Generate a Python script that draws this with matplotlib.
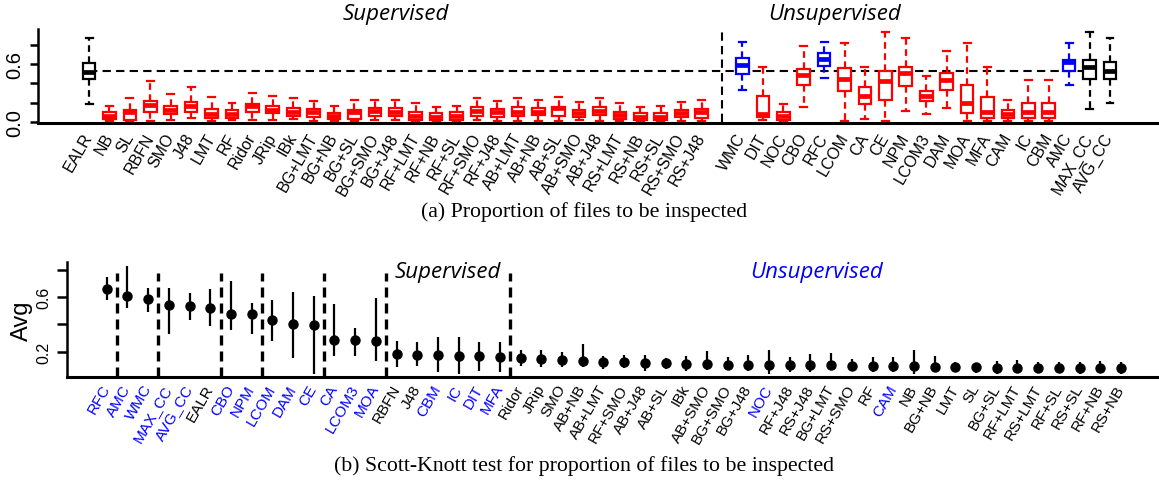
import matplotlib.pyplot as plt
import matplotlib.transforms as mtransforms
import numpy as np

# ---- (a) boxplot data: proportion of files to be inspected ----
baseline_name = ["EALR"]
sup_names = ["NB", "SL", "RBFN", "SMO", "J48", "LMT", "RF", "Ridor", "JRip", "IBk",
             "BG+LMT", "BG+NB", "BG+SL", "BG+SMO", "BG+J48",
             "RF+LMT", "RF+NB", "RF+SL", "RF+SMO", "RF+J48",
             "AB+LMT", "AB+NB", "AB+SL", "AB+SMO", "AB+J48",
             "RS+LMT", "RS+NB", "RS+SL", "RS+SMO", "RS+J48"]
unsup_names = ["WMC", "DIT", "NOC", "CBO", "RFC", "LCOM", "CA", "CE", "NPM", "LCOM3",
               "DAM", "MOA", "MFA", "CAM", "IC", "CBM", "AMC", "MAX_CC", "AVG_CC"]

# EALR, then supervised, then unsupervised
box_hi = [0.87,
          0.17, 0.25, 0.42, 0.29, 0.365, 0.255, 0.20, 0.30, 0.27, 0.25,
          0.22, 0.17, 0.23, 0.23, 0.23,
          0.20, 0.15, 0.17, 0.25, 0.22,
          0.25, 0.23, 0.255, 0.21, 0.25,
          0.20, 0.15, 0.17, 0.21, 0.23,
          0.83, 0.565, 0.186, 0.78, 0.83, 0.82, 0.57, 0.93, 0.865, 0.47,
          0.73, 0.82, 0.565, 0.23, 0.43, 0.43, 0.82, 0.93, 0.865]
box_q3 = [0.61,
          0.10, 0.12, 0.22, 0.17, 0.21, 0.13, 0.12, 0.19, 0.17, 0.14,
          0.13, 0.09, 0.12, 0.14, 0.14,
          0.10, 0.09, 0.10, 0.15, 0.13,
          0.15, 0.145, 0.16, 0.12, 0.15,
          0.10, 0.09, 0.09, 0.12, 0.13,
          0.66, 0.265, 0.10, 0.55, 0.71, 0.555, 0.36, 0.53, 0.57, 0.32,
          0.51, 0.38, 0.26, 0.12, 0.20, 0.20, 0.645, 0.64, 0.62]
box_med = [0.52,
           0.06, 0.10, 0.18, 0.12, 0.17, 0.08, 0.08, 0.17, 0.12, 0.10,
           0.10, 0.06, 0.10, 0.11, 0.10,
           0.06, 0.05, 0.06, 0.11, 0.10,
           0.10, 0.10, 0.145, 0.09, 0.11,
           0.07, 0.05, 0.05, 0.09, 0.10,
           0.59, 0.08, 0.06, 0.486, 0.65, 0.445, 0.27, 0.42, 0.51, 0.27,
           0.43, 0.20, 0.10, 0.08, 0.10, 0.10, 0.62, 0.565, 0.53]
box_q1 = [0.44,
          0.03, 0.025, 0.10, 0.08, 0.10, 0.04, 0.04, 0.10, 0.09, 0.06,
          0.05, 0.03, 0.03, 0.065, 0.06,
          0.02, 0.02, 0.02, 0.065, 0.05,
          0.06, 0.07, 0.06, 0.05, 0.07,
          0.03, 0.02, 0.02, 0.05, 0.04,
          0.50, 0.05, 0.025, 0.38, 0.58, 0.32, 0.19, 0.23, 0.37, 0.22,
          0.33, 0.09, 0.04, 0.04, 0.04, 0.04, 0.53, 0.44, 0.44]
box_lo = [0.19,
          0.01, 0.01, 0.015, 0.02, 0.04, 0.01, 0.025, 0.02, 0.02, 0.03,
          0.01, 0.01, 0.01, 0.02, 0.02,
          0.015, 0.015, 0.015, 0.02, 0.015,
          0.015, 0.015, 0.015, 0.02, 0.015,
          0.015, 0.015, 0.015, 0.015, 0.015,
          0.33, 0.02, 0.015, 0.16, 0.455, 0.015, 0.03, 0.015, 0.11, 0.08,
          0.14, 0.015, 0.01, 0.015, 0.015, 0.015, 0.38, 0.13, 0.20]
ealr_ref = 0.525

# ---- (b) Scott-Knott data ----
sk_names = ["RFC", "AMC", "WMC", "MAX_CC", "AVG_CC", "EALR", "CBO", "NPM", "LCOM", "DAM",
            "CE", "CA", "LCOM3", "MOA", "RBFN", "J48", "CBM", "IC", "DIT", "MFA",
            "Ridor", "JRip", "SMO", "AB+NB", "AB+LMT", "RF+SMO", "AB+J48", "AB+SL", "IBk", "AB+SMO",
            "BG+SMO", "BG+J48", "NOC", "RF+J48", "RS+J48", "BG+LMT", "RS+SMO", "RF", "CAM", "NB",
            "BG+NB", "LMT", "SL", "BG+SL", "RF+LMT", "RS+LMT", "RF+SL", "RS+SL", "RF+NB", "RS+NB"]
sk_avg = [0.659, 0.606, 0.586, 0.542, 0.537, 0.52, 0.476, 0.476, 0.432, 0.403,
          0.395, 0.288, 0.286, 0.28, 0.183, 0.178, 0.176, 0.171, 0.171, 0.163,
          0.151, 0.146, 0.141, 0.13, 0.122, 0.122, 0.117, 0.115, 0.11, 0.11,
          0.105, 0.103, 0.103, 0.103, 0.103, 0.103, 0.098, 0.098, 0.093, 0.093,
          0.086, 0.086, 0.086, 0.081, 0.081, 0.081, 0.081, 0.078, 0.081, 0.078]
sk_hi = [0.745, 0.826, 0.667, 0.667, 0.63, 0.66, 0.716, 0.557, 0.58, 0.64,
         0.606, 0.549, 0.371, 0.593, 0.28, 0.269, 0.305, 0.305, 0.273, 0.273,
         0.212, 0.212, 0.20, 0.256, 0.166, 0.178, 0.178, 0.154, 0.166, 0.207,
         0.163, 0.178, 0.212, 0.159, 0.183, 0.19, 0.146, 0.159, 0.159, 0.212,
         0.171, 0.122, 0.117, 0.134, 0.141, 0.127, 0.122, 0.122, 0.134, 0.122]
sk_lo = [0.579, 0.52, 0.489, 0.33, 0.434, 0.386, 0.361, 0.33, 0.28, 0.151,
         0.037, 0.171, 0.171, 0.134, 0.086, 0.093, 0.053, 0.037, 0.061, 0.053,
         0.098, 0.09, 0.09, 0.086, 0.073, 0.078, 0.061, 0.073, 0.061, 0.068,
         0.068, 0.061, 0.037, 0.053, 0.053, 0.068, 0.068, 0.053, 0.049, 0.037,
         0.049, 0.049, 0.044, 0.037, 0.044, 0.044, 0.044, 0.037, 0.044, 0.037]
sk_group_sizes = [1, 2, 3, 2, 3, 3, 6, 30]

RED = "#ff0000"
BLUE = "#0000ff"
blue_metrics = {"WMC", "RFC", "AMC"}
black_metrics = {"EALR", "MAX_CC", "AVG_CC"}

fig = plt.figure(figsize=(11.59, 4.85), dpi=100)

# ================= (a) =================
ax1 = fig.add_axes([38 / 1159, 1 - 124 / 485, 1 - 38 / 1159, 94 / 485])
names_a = baseline_name + sup_names + unsup_names
pos_a = np.concatenate([[1], np.arange(2, 2 + len(sup_names)),
                        np.arange(3 + len(sup_names), 3 + len(sup_names) + len(unsup_names))])
divider = 2 + len(sup_names)

ax1.plot([1, pos_a[-2]], [ealr_ref, ealr_ref], color="black", lw=1.5,
         linestyle=(0, (4, 2.5)), zorder=1)
ax1.plot([divider, divider], [0, 0.96], color="black", lw=1.5,
         linestyle=(0, (4, 2.5)), zorder=1)

for i, name in enumerate(names_a):
    if name in black_metrics:
        c = "black"
    elif name in blue_metrics:
        c = BLUE
    else:
        c = RED
    stats = [dict(med=box_med[i], q1=box_q1[i], q3=box_q3[i],
                  whislo=box_lo[i], whishi=box_hi[i], fliers=[])]
    ax1.bxp(stats, positions=[pos_a[i]], widths=0.62, capwidths=0.34,
            patch_artist=True, showfliers=False, manage_ticks=False,
            boxprops=dict(facecolor="white", edgecolor=c, linewidth=1.6),
            medianprops=dict(color=c, linewidth=3.4),
            whiskerprops=dict(color=c, linewidth=1.6, linestyle=(0, (3, 2))),
            capprops=dict(color=c, linewidth=1.6), zorder=3)

ax1.set_xlim(-1.5, 53.4)
ax1.set_ylim(-0.01, 0.96)
ax1.set_xticks(pos_a)
ax1.set_xticklabels(names_a, rotation=60, ha="right", va="center",
                    rotation_mode="anchor", family="Liberation Sans", fontsize=11.5)
ax1.tick_params(axis="x", length=0, pad=8)
ax1.set_yticks([0.0, 0.2, 0.4, 0.6, 0.8])
ax1.set_yticklabels(["0.0", "", "", "0.6", ""], rotation=90, va="center",
                    family="Liberation Sans", fontsize=14.5)
ax1.tick_params(axis="y", length=6, width=1.8, pad=4)
for s in ["top", "right"]:
    ax1.spines[s].set_visible(False)
ax1.spines["left"].set_linewidth(1.8)
ax1.spines["bottom"].set_linewidth(2.2)

ax1.text(16.0, 1.12, "Supervised", ha="center", va="center", style="italic",
         family="Open Sans", fontsize=16, clip_on=False)
ax1.text(37.5, 1.12, "Unsupervised", ha="center", va="center", style="italic",
         family="Open Sans", fontsize=16, clip_on=False)

# ================= (b) =================
ax2 = fig.add_axes([67 / 1159, 1 - 378 / 485, 1 - 67 / 1159, 115 / 485])
pos_b = np.arange(1, len(sk_names) + 1)
sk_avg_arr = np.array(sk_avg)
yerr = [sk_avg_arr - np.array(sk_lo), np.array(sk_hi) - sk_avg_arr]
ax2.errorbar(pos_b, sk_avg_arr, yerr=yerr, fmt="o", color="black",
             markersize=6.5, elinewidth=1.6, capsize=0, zorder=3)

for sep in np.cumsum(sk_group_sizes)[:-1] + 0.5:
    ax2.plot([sep, sep], [0.015, 0.78], color="black", lw=2.4,
             linestyle=(0, (3, 1.8)), zorder=2)

ax2.set_xlim(-0.92, 51.84)
ax2.set_ylim(0.015, 0.857)
ax2.set_xticks(pos_b)
ax2.set_xticklabels(sk_names, rotation=60, ha="right", va="center",
                    rotation_mode="anchor", family="Liberation Sans", fontsize=11)
# labels sit a little to the right of their ticks in the original
shift = mtransforms.ScaledTranslation(6 / 100, 0, fig.dpi_scale_trans)
for lbl in ax2.get_xticklabels():
    lbl.set_transform(lbl.get_transform() + shift)
    if lbl.get_text() in set(unsup_names):
        lbl.set_color(BLUE)
ax2.tick_params(axis="x", length=0, pad=6)
ax2.set_yticks([0.2, 0.4, 0.6, 0.8])
ax2.set_yticklabels(["0.2", "", "0.6", ""], rotation=90, va="center",
                    family="Liberation Sans", fontsize=11.5)
ax2.tick_params(axis="y", length=7, width=1.8, pad=4)
ax2.set_ylabel("Avg", family="Liberation Sans", fontsize=17, labelpad=3)
for s in ["top", "right"]:
    ax2.spines[s].set_visible(False)
ax2.spines["left"].set_linewidth(1.8)
ax2.spines["bottom"].set_linewidth(2.2)

ax2.text(17.5, 0.79, "Supervised", ha="center", va="center", style="italic",
         family="Open Sans", fontsize=16, clip_on=False)
ax2.text(35.3, 0.79, "Unsupervised", ha="center", va="center", style="italic",
         family="Open Sans", fontsize=16, color=BLUE, clip_on=False)

# ---- captions ----
fig.text(584 / 1159, 1 - 212 / 485, "(a) Proportion of files to be inspected",
         ha="center", va="center", family="Liberation Serif", fontsize=15.7)
fig.text(584 / 1159, 1 - 466 / 485,
         "(b) Scott-Knott test for proportion of files to be inspected",
         ha="center", va="center", family="Liberation Serif", fontsize=15.7)

fig.savefig("out.png", dpi=100)
